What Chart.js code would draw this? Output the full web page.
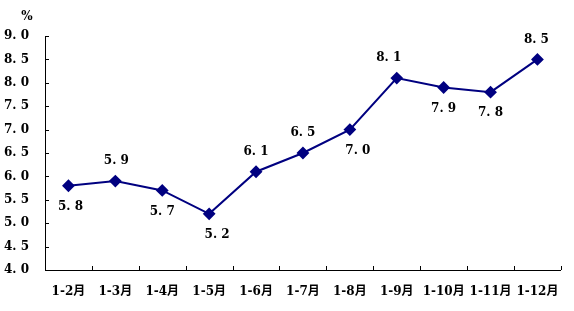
<!DOCTYPE html>
<html><head><meta charset="utf-8">
<script src="https://cdn.jsdelivr.net/npm/chart.js@4"></script>
<style>html,body{margin:0;padding:0;background:#fff}#w{width:574px;height:311px;position:relative}</style>
</head><body><div id="w"><canvas id="c"></canvas></div>
<script>
const categories = ['1-2月','1-3月','1-4月','1-5月','1-6月','1-7月','1-8月','1-9月','1-10月','1-11月','1-12月'];
const values = [5.8,5.9,5.7,5.2,6.1,6.5,7.0,8.1,7.9,7.8,8.5];
const labelAbove = [false,true,false,false,true,true,false,true,false,false,true];
const labelShiftX = [2,1,0,8,0,0,8,-8,0,0,-1];
const yTicks = [4.0,4.5,5.0,5.5,6.0,6.5,7.0,7.5,8.0,8.5,9.0];
const FONT = '"DejaVu Serif", "Noto Sans CJK SC", serif';
const fmt = v => v.toFixed(1).replace('.', '. ');

const extras = {
  id: 'extras',
  afterDatasetsDraw(chart) {
    const ctx = chart.ctx, x = chart.scales.x, y = chart.scales.y;
    ctx.save();
    ctx.strokeStyle = '#000'; ctx.lineWidth = 1;
    yTicks.forEach(t => {
      const py = Math.round(y.getPixelForValue(t)) + 0.5;
      ctx.beginPath(); ctx.moveTo(x.left, py); ctx.lineTo(x.left + 4, py); ctx.stroke();
    });
    const step = x.getPixelForValue(1) - x.getPixelForValue(0);
    for (let i = 0; i <= categories.length; i++) {
      const px = Math.round(x.getPixelForValue(0) - step / 2 + i * step) + 0.5;
      ctx.beginPath(); ctx.moveTo(px, y.bottom); ctx.lineTo(px, y.bottom - 4); ctx.stroke();
    }
    const meta = chart.getDatasetMeta(0);
    ctx.fillStyle = '#000';
    ctx.font = 'bold 12px ' + FONT;
    ctx.textAlign = 'center'; ctx.textBaseline = 'middle';
    meta.data.forEach((pt, i) => {
      const dy = labelAbove[i] ? -20 : 21;
      ctx.fillText(fmt(values[i]), pt.x + labelShiftX[i], pt.y + dy);
    });
    ctx.fillText('%', 27, 17);
    ctx.restore();
  }
};

new Chart(document.getElementById('c'), {
  type: 'line',
  data: {
    labels: categories,
    datasets: [{
      data: values,
      borderColor: '#000080',
      backgroundColor: '#000080',
      borderWidth: 2,
      pointStyle: 'rectRot',
      pointRadius: 5,
      pointHoverRadius: 5,
      tension: 0,
      fill: false
    }]
  },
  options: {
    responsive: true,
    maintainAspectRatio: false,
    animation: false,
    events: [],
    layout: { padding: { top: 36, right: 12, left: 0, bottom: 0 } },
    plugins: { legend: { display: false }, tooltip: { enabled: false } },
    scales: {
      x: {
        offset: true,
        grid: { drawOnChartArea: false, drawTicks: false },
        border: { display: true, color: '#000', width: 1 },
        ticks: { color: '#000', font: { family: FONT, size: 12, weight: 'bold' }, padding: 15, maxRotation: 0, autoSkip: false },
        afterFit(s) { s.height = 41; }
      },
      y: {
        min: 4, max: 9,
        afterBuildTicks(s) { s.ticks = yTicks.map(v => ({ value: v })); },
        grid: { drawOnChartArea: false, drawTicks: false },
        border: { display: true, color: '#000', width: 1 },
        ticks: { color: '#000', font: { family: FONT, size: 12, weight: 'bold' }, padding: 16, callback: v => fmt(v) },
        afterFit(s) { s.width = 45; }
      }
    }
  },
  plugins: [extras]
});
</script></body></html>
